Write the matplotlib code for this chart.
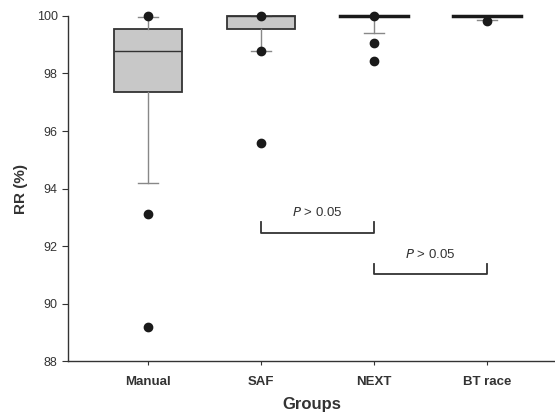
import matplotlib.pyplot as plt

plt.rcParams['font.family'] = ['Liberation Sans', 'DejaVu Sans']

groups = ['Manual', 'SAF', 'NEXT', 'BT race']
q1 = [97.35, 99.54, 100.0, 100.0]
med = [98.77, 100.0, 100.0, 100.0]
q3 = [99.56, 100.0, 100.0, 100.0]
whis_lo = [94.2, 98.78, 99.41, 99.85]
whis_hi = [99.95, 100.0, 100.0, 100.0]
outliers = [[100.0, 93.1, 89.2], [100.0, 98.78, 95.6], [100.0, 99.07, 98.42], [99.82]]

stats = []
for i in range(len(groups)):
    stats.append(dict(label=groups[i], q1=q1[i], med=med[i], q3=q3[i],
                      whislo=whis_lo[i], whishi=whis_hi[i], fliers=outliers[i]))

fig = plt.figure(figsize=(5.55, 4.15), dpi=100)
ax = fig.add_axes([0.1225, 0.130, 0.8775, 0.8315])

bp = ax.bxp(stats, positions=[1, 2, 3, 4], widths=0.6, patch_artist=True,
            boxprops=dict(facecolor='#c8c8c8', edgecolor='#333333', linewidth=1.3),
            medianprops=dict(color='#333333', linewidth=1.0),
            whiskerprops=dict(color='#888888', linewidth=1.0),
            capprops=dict(color='#888888', linewidth=1.0),
            capwidths=0.18,
            flierprops=dict(marker='o', markerfacecolor='#1a1a1a', markeredgecolor='#1a1a1a', markersize=6))
for key in bp:
    for art in bp[key]:
        art.set_clip_on(False)
for f in bp['fliers']:
    f.set_zorder(4)

# collapsed boxes drawn as thick lines
for i in range(len(groups)):
    if q1[i] == q3[i]:
        ax.plot([i + 1 - 0.3, i + 1 + 0.3], [q1[i], q3[i]], color='#1a1a1a',
                linewidth=2.5, zorder=3, clip_on=False)

# significance brackets
brackets = [(2, 3, 92.46, 92.83), (3, 4, 91.03, 91.37)]
for x0, x1, yb, yt in brackets:
    ax.plot([x0, x0, x1, x1], [yt, yb, yb, yt], color='#333333', linewidth=1.3)
    ax.text((x0 + x1) / 2, yt + 0.1, r'$\it{P}$ > 0.05', ha='center', va='bottom',
            fontsize=9.5, color='#333333')

ax.set_xlim(0.292, 4.6)
ax.set_ylim(88, 100)
ax.set_yticks([88, 90, 92, 94, 96, 98, 100])
ax.set_xticks([1, 2, 3, 4])
ax.set_xticklabels(groups, fontweight='bold', fontsize=9.5)
ax.tick_params(axis='y', labelsize=9, length=4, direction='out', colors='#333333')
ax.tick_params(axis='x', length=3, pad=8, colors='#333333')
ax.set_ylabel('RR (%)', fontweight='bold', fontsize=11, color='#333333', labelpad=6)
ax.set_xlabel('Groups', fontweight='bold', fontsize=12, color='#333333', labelpad=6)
for s in ['top', 'right']:
    ax.spines[s].set_visible(False)
for s in ['left', 'bottom']:
    ax.spines[s].set_color('#333333')
    ax.spines[s].set_linewidth(1.0)

fig.savefig('out.png', dpi=100)
